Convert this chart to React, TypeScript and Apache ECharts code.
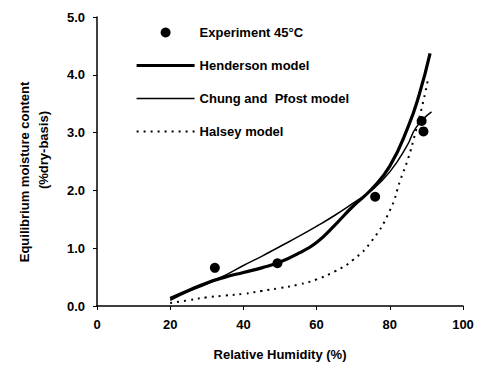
import React, { useEffect, useRef } from "react";
import * as echarts from "echarts";

const experiment: number[][] = [
  [32.2, 0.66],
  [49.3, 0.74],
  [76.0, 1.89],
  [88.7, 3.2],
  [89.2, 3.02],
];

const henderson: number[][] = [
  [20, 0.13], [25, 0.27], [30, 0.4], [35, 0.5], [40, 0.58], [45, 0.66],
  [50, 0.76], [55, 0.91], [60, 1.1], [65, 1.4], [70, 1.73], [75, 2.02],
  [80, 2.42], [85, 3.1], [88, 3.65], [91, 4.37],
];

const chung: number[][] = [
  [20, 0.1], [25, 0.25], [30, 0.38], [35, 0.53], [40, 0.7], [45, 0.86],
  [50, 1.03], [55, 1.2], [60, 1.38], [65, 1.57], [70, 1.78], [75, 2.0],
  [80, 2.32], [84.6, 2.76], [87.3, 3.1], [91.4, 3.36],
];

const halsey: number[][] = [
  [20, 0.05], [25, 0.1], [30, 0.15], [35, 0.18], [40, 0.21], [45, 0.26],
  [50, 0.31], [55, 0.37], [60, 0.46], [65, 0.6], [70, 0.8], [75, 1.12],
  [80, 1.65], [83, 2.2], [85, 2.55], [87, 3.0], [89, 3.5], [90.5, 3.94],
];

const seriesNames = ["Experiment 45°C", "Henderson model", "Chung and  Pfost model", "Halsey model"];
const xName = "Relative Humidity (%)";
const yNameLines = ["Equilibrium moisture content", "(%dry-basis)"];

const FONT = "'Liberation Sans', Arial, sans-serif";

export default function App() {
  const ref = useRef<HTMLDivElement>(null);
  useEffect(() => {
    if (!ref.current) return;
    const chart = echarts.init(ref.current, undefined, { renderer: "svg" });
    const axisText = { color: "#000", fontFamily: FONT, fontWeight: "bold" as const, fontSize: 13 };
    const hiddenSymbol = { opacity: 0, color: "transparent", borderWidth: 0 };
    chart.setOption({
      animation: false,
      backgroundColor: "#fff",
      grid: { left: 97, top: 17, width: 366, height: 289, containLabel: false },
      legend: {
        orient: "vertical",
        left: 130,
        top: 21,
        itemWidth: 58,
        itemHeight: 10,
        itemGap: 20,
        textStyle: { ...axisText, fontSize: 13 },
        data: [
          { name: seriesNames[0], itemStyle: { color: "#000", opacity: 1 } },
          { name: seriesNames[1], itemStyle: hiddenSymbol, lineStyle: { width: 3.2, color: "#000" } },
          { name: seriesNames[2], itemStyle: hiddenSymbol, lineStyle: { width: 1.5, color: "#000" } },
          { name: seriesNames[3], itemStyle: hiddenSymbol, lineStyle: { width: 2, color: "#000", type: [2, 5] } },
        ],
      },
      xAxis: {
        type: "value",
        min: 0,
        max: 100,
        interval: 20,
        name: xName,
        nameLocation: "middle",
        nameGap: 42,
        nameTextStyle: axisText,
        axisLine: { lineStyle: { color: "#000", width: 1.5 } },
        axisTick: { length: 4, lineStyle: { color: "#000" } },
        axisLabel: { ...axisText, margin: 12 },
        splitLine: { show: false },
      },
      yAxis: {
        type: "value",
        min: 0,
        max: 5,
        interval: 1,
        axisLine: { show: true, lineStyle: { color: "#000", width: 1.5 } },
        axisTick: { show: true, length: 4, lineStyle: { color: "#000" } },
        axisLabel: { ...axisText, margin: 12, formatter: (v: number) => v.toFixed(1) },
        splitLine: { show: false },
      },
      graphic: [
        {
          type: "text",
          x: 24,
          y: 172,
          rotation: Math.PI / 2,
          style: {
            text: yNameLines[0],
            fill: "#000",
            font: `bold 13px ${FONT}`,
            textAlign: "center",
            textVerticalAlign: "middle",
          },
        },
        {
          type: "text",
          x: 43,
          y: 150,
          rotation: Math.PI / 2,
          style: {
            text: yNameLines[1],
            fill: "#000",
            font: `bold 13px ${FONT}`,
            textAlign: "center",
            textVerticalAlign: "middle",
          },
        },
      ],
      series: [
        {
          name: seriesNames[0],
          type: "scatter",
          data: experiment,
          symbol: "circle",
          symbolSize: 10,
          itemStyle: { color: "#000", opacity: 1 },
          z: 5,
        },
        {
          name: seriesNames[1],
          type: "line",
          data: henderson,
          smooth: true,
          showSymbol: false,
          symbol: "none",
          lineStyle: { color: "#000", width: 3.2 },
          itemStyle: { color: "#000" },
        },
        {
          name: seriesNames[2],
          type: "line",
          data: chung,
          smooth: true,
          showSymbol: false,
          symbol: "none",
          lineStyle: { color: "#000", width: 1.5 },
          itemStyle: { color: "#000" },
        },
        {
          name: seriesNames[3],
          type: "line",
          data: halsey,
          smooth: true,
          showSymbol: false,
          symbol: "none",
          lineStyle: { color: "#000", width: 2, type: [2, 5] },
          itemStyle: { color: "#000" },
        },
      ],
    });
    return () => chart.dispose();
  }, []);
  return (
    <div
      ref={ref}
      style={{ position: "fixed", left: 0, top: 0, width: 481, height: 369 }}
    />
  );
}
